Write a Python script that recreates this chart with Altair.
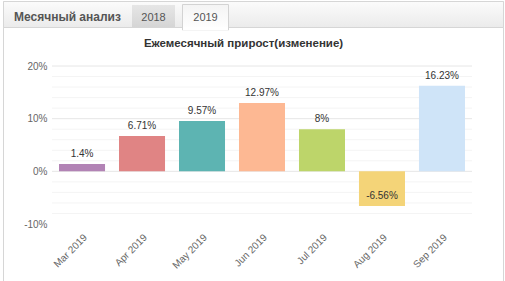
import altair as alt
import pandas as pd

# Monthly growth, 2019
months = ["Mar 2019", "Apr 2019", "May 2019", "Jun 2019", "Jul 2019", "Aug 2019", "Sep 2019"]
growth = [1.4, 6.71, 9.57, 12.97, 8.0, -6.56, 16.23]
labels = ["1.4%", "6.71%", "9.57%", "12.97%", "8%", "-6.56%", "16.23%"]
colors = ["#b283b5", "#e08484", "#5db4b2", "#fdb893", "#bdd56a", "#f4d478", "#cfe4f8"]

y_ticks = [-10, 0, 10, 20]
major_grid = [0, 10, 20]
minor_grid = [-8, -6, -4, -2, 2, 4, 6, 8, 12, 14, 16, 18]

# plot-area origin inside the 505x281 canvas
OX, OY = 52, 66
W, H = 420, 158

df = pd.DataFrame({"month": months, "growth": growth, "label": labels})
one = pd.DataFrame({"k": [0]})

yscale = alt.Scale(domain=[-10, 20], nice=False, zero=False)
xscale = alt.Scale(domain=months, paddingInner=0.233, paddingOuter=0.117)

y_axis = alt.Axis(
    values=y_ticks, labelExpr="datum.value + '%'", domain=False, ticks=False,
    grid=False, labelPadding=5, labelColor="#666666",
    labelFont="Liberation Sans", labelFontSize=10, zindex=1,
)
x_axis = alt.Axis(
    labelAngle=-45, domain=False, ticks=False, labelPadding=8,
    labelColor="#666666", labelFont="Liberation Sans", labelFontSize=10, zindex=1,
)


def px(x):
    return alt.value(x - OX)


def py(y):
    return alt.value(y - OY)


# frame around the widget (outline only)
frame = alt.Chart(one).mark_rect(filled=False, stroke="#d6d6d6", strokeWidth=1).encode(
    x=px(3.5), x2=px(503.5), y=py(1.5), y2=py(300)
)

# header strip
header = alt.Chart(one).mark_rect(
    fill=alt.Gradient(
        gradient="linear",
        stops=[alt.GradientStop(color="#fbfbfb", offset=0), alt.GradientStop(color="#ebebeb", offset=1)],
        x1=0, x2=0, y1=0, y2=1,
    ),
    stroke="#d6d6d6", strokeWidth=1,
).encode(x=px(3.5), x2=px(503.5), y=py(1.5), y2=py(27.5))

tab_2018 = alt.Chart(one).mark_rect(
    fill=alt.Gradient(
        gradient="linear",
        stops=[alt.GradientStop(color="#e6e6e6", offset=0), alt.GradientStop(color="#d5d5d5", offset=1)],
        x1=0, x2=0, y1=0, y2=1,
    )
).encode(x=px(132), x2=px(175), y=py(5), y2=py(27))

tab_2019 = alt.Chart(one).mark_rect(
    fill=alt.Gradient(
        gradient="linear",
        stops=[alt.GradientStop(color="#f4f4f4", offset=0), alt.GradientStop(color="#ffffff", offset=1)],
        x1=0, x2=0, y1=0, y2=1,
    ),
    stroke="#d3d3d3", strokeWidth=1,
).encode(x=px(182.5), x2=px(228.5), y=py(4.5), y2=py(30))

tab_gap = alt.Chart(one).mark_rule(color="white", strokeWidth=3).encode(
    x=px(183), x2=px(228), y=py(29)
)

header_text = alt.Chart(one).mark_text(
    text="Месячный анализ", align="left", baseline="middle",
    font="Liberation Sans", fontSize=12, fontWeight="bold", color="#555555",
).encode(x=px(14), y=py(17))

tab_style = dict(align="center", baseline="middle", font="Liberation Sans", fontSize=11, color="#555555")
tab_text_2018 = alt.Chart(one).mark_text(text="2018", **tab_style).encode(x=px(153.5), y=py(17.5))
tab_text_2019 = alt.Chart(one).mark_text(text="2019", **tab_style).encode(x=px(205.5), y=py(17.5))

title = alt.Chart(one).mark_text(
    text="Ежемесячный прирост(изменение)", align="center", baseline="middle",
    font="Liberation Sans", fontSize=11.5, fontWeight="bold", color="#333333",
).encode(x=px(243.5), y=py(44))

# gridlines
minor = alt.Chart(pd.DataFrame({"growth": minor_grid})).mark_rule(color="#f4f4f4", strokeWidth=1).encode(
    y=alt.Y("growth:Q", scale=yscale, axis=y_axis, title=None)
)
major = alt.Chart(pd.DataFrame({"growth": major_grid})).mark_rule(color="#e6e6e6", strokeWidth=1).encode(
    y=alt.Y("growth:Q", scale=yscale, axis=y_axis, title=None)
)

base = alt.Chart(df)

bars = base.mark_bar().encode(
    x=alt.X("month:N", sort=months, scale=xscale, title=None, axis=x_axis),
    y=alt.Y("growth:Q", scale=yscale, title=None, axis=y_axis),
    y2=alt.datum(0),
    color=alt.Color("month:N", scale=alt.Scale(domain=months, range=colors), legend=None),
)

values = base.mark_text(
    align="center", baseline="alphabetic", dy=-7,
    font="Liberation Sans", fontSize=10, color="#333333",
).encode(
    x=alt.X("month:N", sort=months, scale=xscale, title=None, axis=x_axis),
    y=alt.Y("growth:Q", scale=yscale, title=None, axis=y_axis),
    text="label:N",
)

chart = alt.layer(
    frame, header, tab_2018, tab_2019, tab_gap, header_text, tab_text_2018, tab_text_2019, title,
    minor, major, bars, values,
).properties(
    width=W, height=H,
    autosize=alt.AutoSizeParams(type="none"),
    padding={"left": OX, "top": OY, "right": 505 - OX - W, "bottom": 281 - OY - H},
    background="white",
).configure_view(stroke=None)

chart.save("out.html", embed_options={"renderer": "svg", "actions": False})
